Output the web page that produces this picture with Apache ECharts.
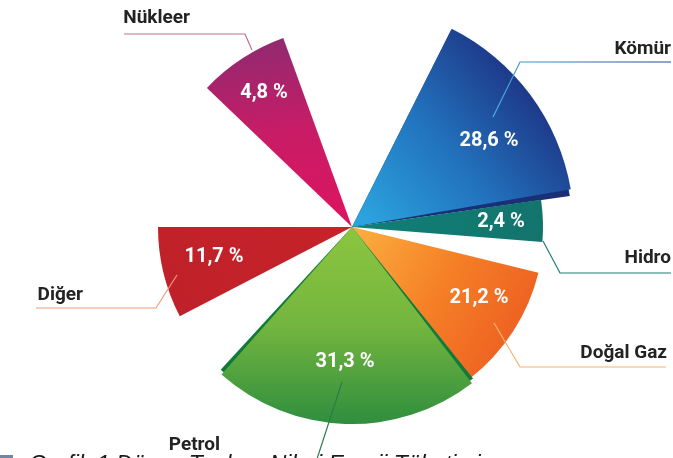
<!DOCTYPE html>
<html>
<head>
<meta charset="utf-8">
<title>Grafik 1</title>
<style>
  html, body { margin: 0; padding: 0; background: #fff; overflow: hidden; }
  #main { width: 673px; height: 458px; }
</style>
<script src="https://cdn.jsdelivr.net/npm/echarts@6/dist/echarts.min.js"></script>
</head>
<body>
<div id="main"></div>
<script>
// values as printed on the picture
const categories = ['Kömür', 'Hidro', 'Doğal Gaz', 'Petrol', 'Diğer', 'Nükleer'];
const shares = [28.6, 2.4, 21.2, 31.3, 11.7, 4.8];

// the drawing is not to scale, so each wedge keeps its own clock angles and reach
const wedgeFrom = [26.7, 81.8, 103.8, 142.5, 242.6, 313.8];
const wedgeTo = [80.2, 94.5, 142, 221.5, 270, 340];
const wedgeReach = [222, 191, 192, 197, 194, 201];

const centerX = 352;
const centerY = 227;

const grad = (x, y, x2, y2, stops) => new echarts.graphic.LinearGradient(x, y, x2, y2,
    stops.map((color, i) => ({ offset: i / (stops.length - 1), color: color })));

const fills = [
    grad(0.05, 0.95, 0.8, 0.25, ['#2ba3de', '#2272bd', '#1d3585']),
    grad(0, 0, 1, 0, ['#0f8078', '#13746c']),
    grad(0, 0, 1, 0.7, ['#fbb040', '#f57f26', '#ec5c22']),
    grad(0, 0, 0, 1, ['#8cc63f', '#74b53f', '#2f8e3e']),
    grad(1, 0, 0, 1, ['#c6232a', '#bf2029']),
    grad(0.5, 1, 0.35, 0, ['#dc1460', '#c81c66', '#8f2a70'])
];
const lineColors = [
    grad(0, 1, 1, 0, ['#4db2e0', '#24408f']),
    '#1d7f78',
    '#f5b26b',
    '#2f7a4e',
    '#ec9c78',
    '#c06f88'
];
// darker side of the wedge, only Kömür and Petrol have one
const edges = [
    { color: '#1b2f78', from: 26.7, to: 81.9, reach: 220 },
    null, null,
    { color: '#0f7a3a', from: 141.4, to: 222.6, reach: 194 },
    null, null
];
const labelSpots = [[489, 141], [501, 222], [479, 298], [345, 362], [214, 257], [264, 93]];
const leaders = [
    [[493, 117], [520, 62], [671, 62]],
    [[543, 241], [560, 273], [671, 273]],
    [[494, 323], [520, 367], [666, 367]],
    [[342, 382], [316, 462]],
    [[177, 275], [156, 308], [36, 308]],
    [[252, 50], [245, 34], [124, 34]]
];
const nameSpots = [[671, 49], [671, 258], [667, 353], [220, 445], [83, 295], [190, 18]];

const series = [];
categories.forEach((name, i) => {
    if (edges[i]) {
        series.push({
            type: 'pie',
            silent: true,
            center: [centerX, centerY],
            radius: [0, edges[i].reach],
            startAngle: 90 - edges[i].from,
            endAngle: 90 - edges[i].to,
            label: { show: false },
            labelLine: { show: false },
            itemStyle: { color: edges[i].color },
            data: [{ name: name, value: shares[i] }]
        });
    }
    series.push({
        type: 'pie',
        silent: true,
        center: [centerX, centerY],
        radius: [0, wedgeReach[i]],
        startAngle: 90 - wedgeFrom[i],
        endAngle: 90 - wedgeTo[i],
        itemStyle: { color: fills[i] },
        labelLine: { show: false },
        label: {
            show: true,
            position: 'inside',
            color: '#fff',
            fontFamily: 'Roboto',
            fontWeight: 700,
            fontSize: 20,
            formatter: p => String(p.value).replace('.', ',') + ' %'
        },
        labelLayout: {
            x: labelSpots[i][0],
            y: labelSpots[i][1],
            align: 'center',
            verticalAlign: 'middle'
        },
        data: [{ name: name, value: shares[i] }]
    });
});

const graphics = [];
categories.forEach((name, i) => {
    graphics.push({
        type: 'polyline',
        z: 10,
        silent: true,
        shape: { points: leaders[i] },
        style: { stroke: lineColors[i], lineWidth: 1.2, fill: null }
    });
    graphics.push({
        type: 'text',
        z: 10,
        x: nameSpots[i][0],
        y: nameSpots[i][1],
        style: {
            text: name,
            align: 'right',
            verticalAlign: 'middle',
            fill: '#232323',
            font: '700 19px Roboto'
        }
    });
});
// caption, cut off by the lower edge of the page
graphics.push({
    type: 'rect',
    shape: { x: 0, y: 455, width: 13, height: 3 },
    style: { fill: '#6f87a6' }
});
graphics.push({
    type: 'text',
    z: 11,
    x: 29,
    y: 454,
    style: {
        text: 'Grafik 1 Dünya Toplam Nihai Enerji Tüketimi',
        align: 'left',
        verticalAlign: 'top',
        fill: '#1a1a1a',
        font: 'italic 23px "Liberation Sans"'
    }
});

const chart = echarts.init(document.getElementById('main'), null, { renderer: 'canvas' });
chart.setOption({
    animation: false,
    backgroundColor: '#fff',
    series: series,
    graphic: graphics
});
</script>
</body>
</html>
